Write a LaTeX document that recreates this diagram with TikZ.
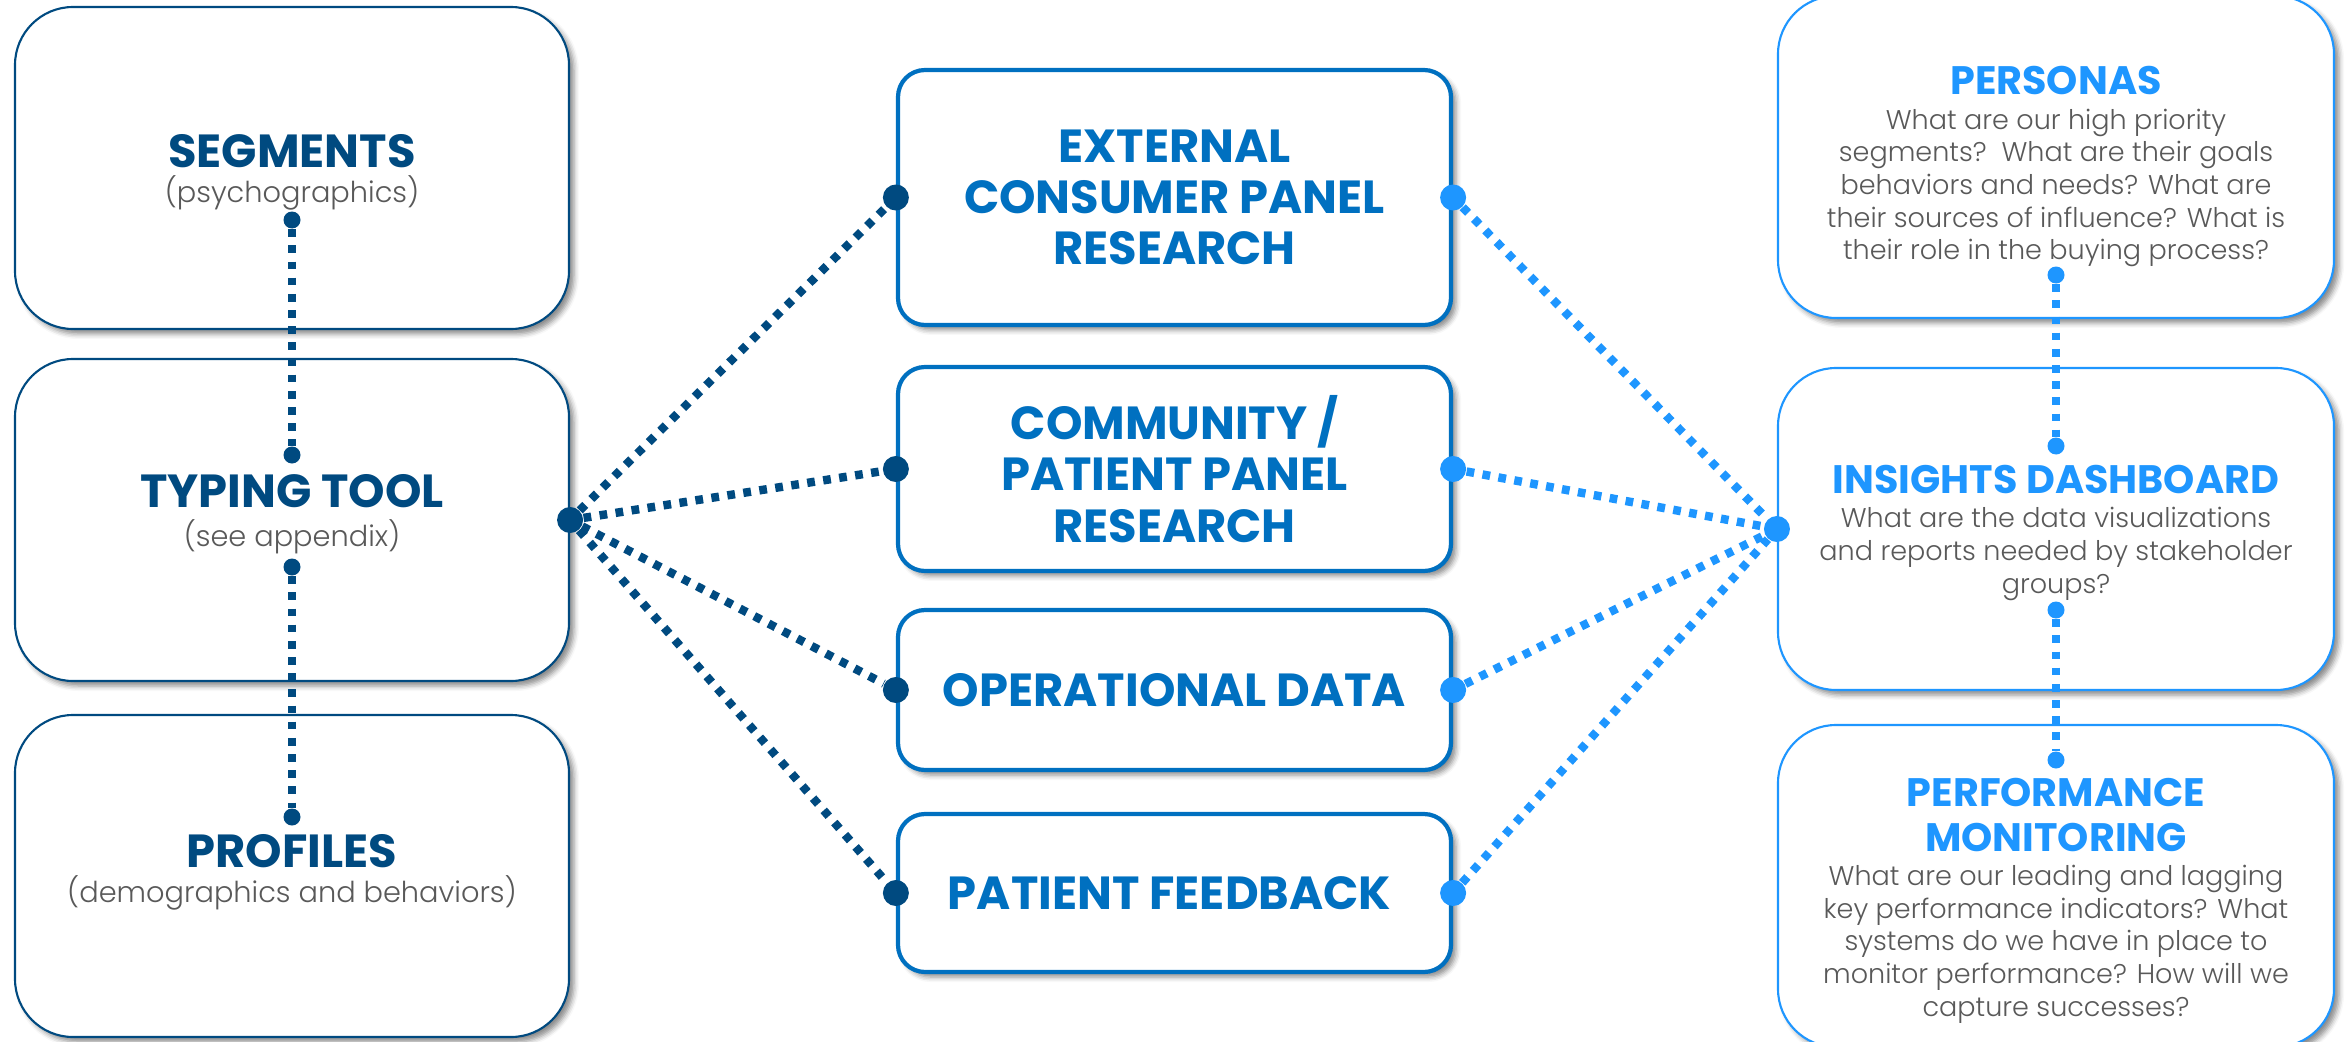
\documentclass[tikz,border=0pt]{standalone}
\usepackage{fontspec}
\setmainfont{Poppins}
\newfontfamily\lightfont{Poppins Light}
\usepackage{tikz}
\usetikzlibrary{positioning}
\usetikzlibrary{shadows.blur}
\definecolor{navy}{RGB}{0,74,128}
\definecolor{midblue}{RGB}{0,112,192}
\definecolor{skyblue}{RGB}{30,150,255}
\definecolor{notegray}{RGB}{89,89,89}
\tikzset{basic box/.style={draw,
                           fill=white,
                           rounded corners=0.58cm,
                           blur shadow={shadow xshift=0.05cm,shadow yshift=-0.05cm,
                                        shadow blur radius=0.05cm,shadow opacity=45}}}
\tikzset{basic dot/.style={circle,inner sep=0pt}}
\tikzset{link line/.style={draw,
                           line width=2.4pt,
                           dash pattern=on 2.2pt off 2.4pt}}

\begin{document}
\begin{tikzpicture}
  [
    left box/.style={basic box,draw=navy,line width=0.6pt,
                     minimum width=5.54cm,minimum height=3.22cm},
    mid box/.style={basic box,draw=midblue,line width=1.2pt,
                    rounded corners=0.27cm,minimum width=5.53cm},
    right box/.style={basic box,draw=skyblue,line width=0.6pt,
                      minimum width=5.56cm,minimum height=3.22cm},
    big dot/.style={basic dot,minimum size=0.26cm},
    small dot/.style={basic dot,minimum size=0.17cm},
    title text/.style={font=\bfseries\fontsize{13.2}{14.6}\selectfont,
                       align=center,inner sep=0pt},
    small title/.style={text=skyblue,font=\bfseries\fontsize{11.3}{12.8}\selectfont,
                        align=center,inner sep=0pt},
    note text/.style={text=notegray,font=\lightfont\fontsize{8.2}{9.6}\selectfont,
                      align=center,inner sep=0pt},
    body text/.style={text=notegray,font=\lightfont\fontsize{7.7}{9.3}\selectfont,
                      align=center,inner sep=0pt},
  ]
    \useasboundingbox (0,0) rectangle (23.46,10.41);
    \clip (0,0) rectangle (23.46,10.41);

    % left column
    \node [left box] (seg) at (2.92,8.73) {};
    \node [left box] (typ) at (2.92,5.21) {};
    \node [left box] (pro) at (2.92,1.65) {};

    \node [title text,text=navy] (segT) at (2.92,8.90) {SEGMENTS};
    \node [note text] (segN) at (2.92,8.48) {(psychographics)};
    \node [title text,text=navy] (typT) at (2.92,5.50) {TYPING TOOL};
    \node [note text] (typN) at (2.92,5.04) {(see appendix)};
    \node [title text,text=navy] (proT) at (2.92,1.90) {PROFILES};
    \node [note text] (proN) at (2.92,1.48) {(demographics and behaviors)};

    % middle column
    \foreach \n/\y/\h/\l in
      {
        ext/8.435/2.55/{EXTERNAL\\CONSUMER PANEL\\RESEARCH},
        com/5.72/2.04/{COMMUNITY /\\PATIENT PANEL\\RESEARCH},
        ope/3.51/1.60/{OPERATIONAL DATA},
        pat/1.48/1.58/{PATIENT FEEDBACK}
      }
    {
    \node [mid box,minimum height=\h cm] (\n) at (11.745,\y) {};
    \node [title text,text=midblue] (\n T) at (\n) {\l};
    }

    % right column
    \node [right box] (per) at (20.56,8.84) {};
    \node [right box] (ins) at (20.56,5.12) {};
    \node [right box] (prf) at (20.56,1.55) {};

    \node [small title] (perT) at (20.56,9.60) {PERSONAS};
    \node [body text] (perN) at (20.56,8.53)
      {What are our high priority\\
       segments?\ \ What are their goals\\
       behaviors and needs? What are\\
       their sources of influence? What is\\
       their role in the buying process?};
    \node [small title] (insT) at (20.56,5.62) {INSIGHTS DASHBOARD};
    \node [body text] (insN) at (20.56,4.87)
      {What are the data visualizations\\
       and reports needed by stakeholder\\
       groups?};
    \node [small title] (prfT) at (20.56,2.26) {PERFORMANCE\\MONITORING};
    \node [body text] (prfN) at (20.56,0.97)
      {What are our leading and lagging\\
       key performance indicators? What\\
       systems do we have in place to\\
       monitor performance? How will we\\
       capture successes?};

    % dots
    \node [small dot,fill=navy] (segD) at (2.92,8.21) {};
    \node [small dot,fill=navy] (typU) at (2.92,5.86) {};
    \node [small dot,fill=navy] (typD) at (2.92,4.74) {};
    \node [small dot,fill=navy] (proU) at (2.92,2.24) {};
    \node [big dot,fill=navy] (typR) at (typ.east) {};

    \node [small dot,fill=skyblue] (perD) at (20.56,7.66) {};
    \node [small dot,fill=skyblue] (insU) at (20.56,5.95) {};
    \node [small dot,fill=skyblue] (insD) at (20.56,4.31) {};
    \node [small dot,fill=skyblue] (prfU) at (20.56,2.81) {};
    \node [big dot,fill=skyblue] (insL) at (ins.west) {};

    \foreach \n in {ext,com,ope,pat}
    {
    \node [big dot,fill=navy] (\n-l) at (\n.west) {};
    \node [big dot,fill=skyblue] (\n-r) at (\n.east) {};
    }

    % links
    \path [link line,draw=navy] (segD) -- (typU);
    \path [link line,draw=navy] (typD) -- (proU);
    \path [link line,draw=skyblue] (perD) -- (insU);
    \path [link line,draw=skyblue] (insD) -- (prfU);
    \foreach \n in {ext,com,ope,pat}
    {
    \path [link line,draw=navy] (typR) -- (\n-l);
    \path [link line,draw=skyblue] (\n-r) -- (insL);
    }

  \end{tikzpicture}
\end{document}
